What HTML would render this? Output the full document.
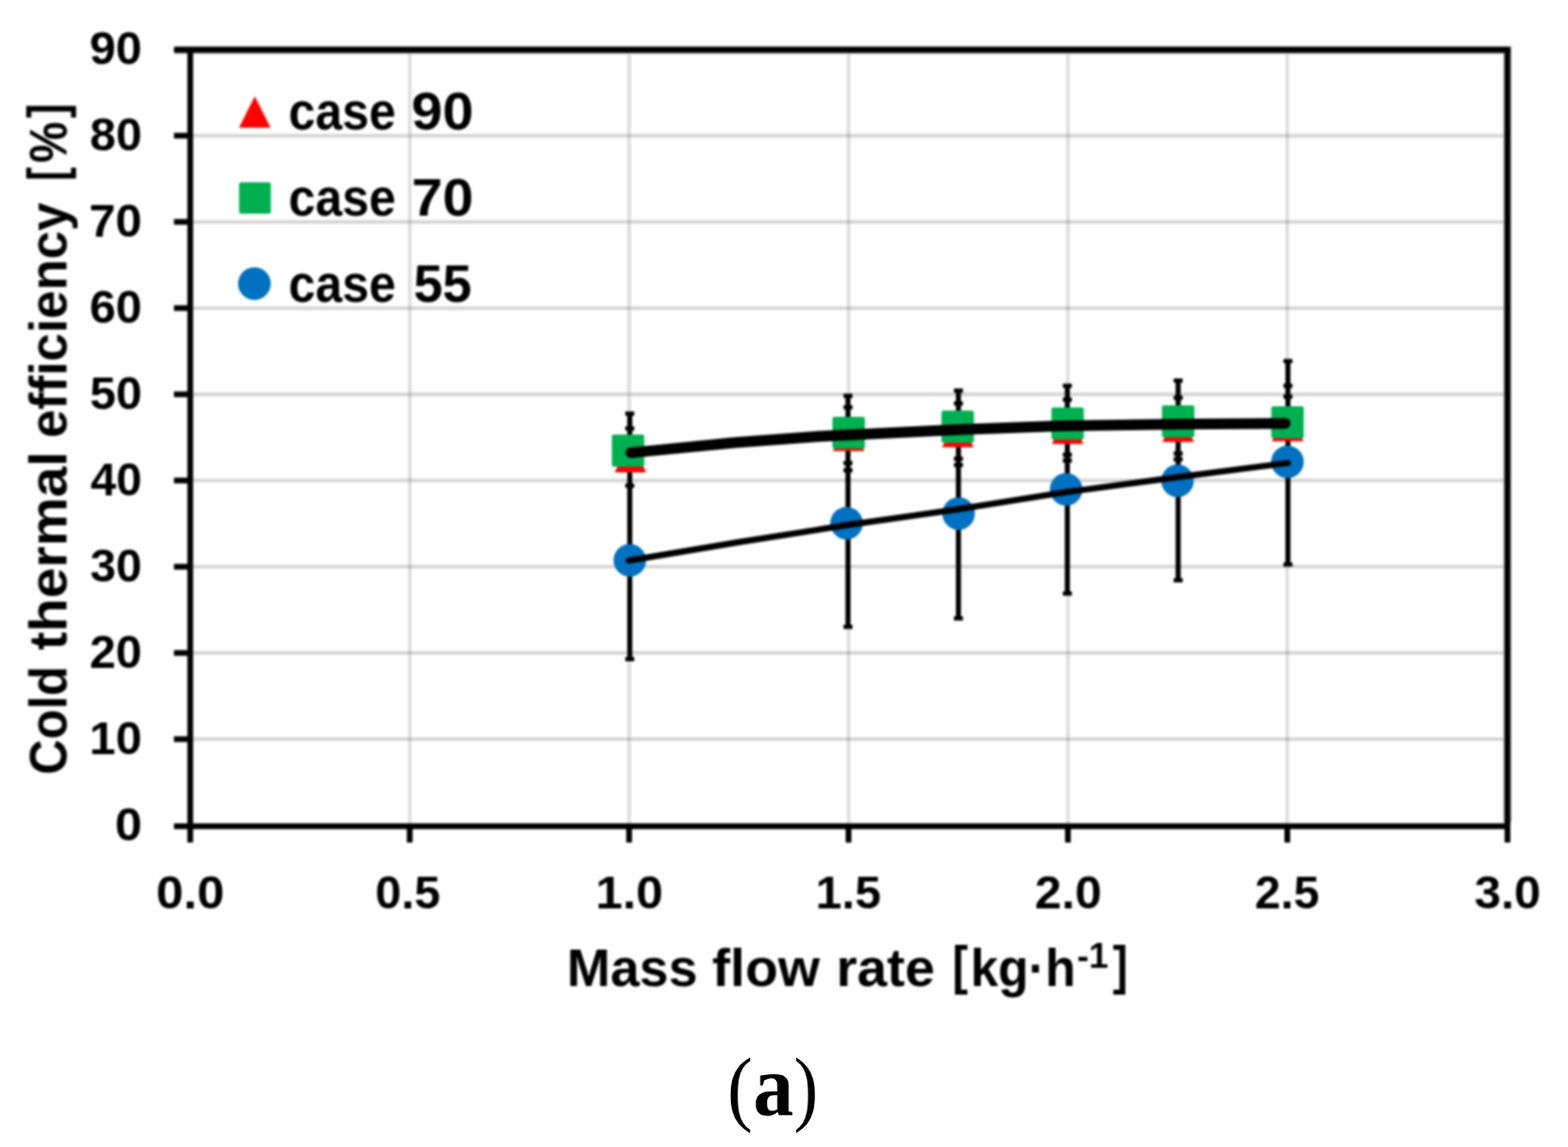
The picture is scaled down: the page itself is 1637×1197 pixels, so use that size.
<!DOCTYPE html>
<html lang="en">
<head>
<meta charset="utf-8">
<title>Cold thermal efficiency vs mass flow rate (a)</title>
<style>
html,body{margin:0;padding:0;background:#fff;}
body{width:1637px;height:1197px;overflow:hidden;position:relative;}
svg{position:absolute;left:0;top:0;display:block;}
.sans{font-family:"Liberation Sans", sans-serif;font-weight:bold;fill:#000;}
.serif{font-family:"Liberation Serif", serif;fill:#000;}
</style>
</head>
<body>
<svg width="1637" height="1197" viewBox="0 0 1637 1197" role="img" aria-label="Cold thermal efficiency versus mass flow rate">
<rect x="0" y="0" width="1637" height="1197" fill="#ffffff"/>
<defs><filter id="soft" x="-5%" y="-5%" width="110%" height="110%" color-interpolation-filters="sRGB"><feGaussianBlur stdDeviation="1"/></filter></defs>
<g filter="url(#soft)">
<g stroke="#000" stroke-opacity="0.165" stroke-width="3.8" fill="none">
<line x1="198.6" y1="771.38" x2="1573.8" y2="771.38"/>
<line x1="198.6" y1="681.41" x2="1573.8" y2="681.41"/>
<line x1="198.6" y1="591.44" x2="1573.8" y2="591.44"/>
<line x1="198.6" y1="501.47" x2="1573.8" y2="501.47"/>
<line x1="198.6" y1="411.5" x2="1573.8" y2="411.5"/>
<line x1="198.6" y1="321.53" x2="1573.8" y2="321.53"/>
<line x1="198.6" y1="231.56" x2="1573.8" y2="231.56"/>
<line x1="198.6" y1="141.59" x2="1573.8" y2="141.59"/>
</g>
<g stroke="#000" stroke-opacity="0.13" stroke-width="3.8" fill="none">
<line x1="427.75" y1="52.1" x2="427.75" y2="862.3"/>
<line x1="656.8" y1="52.1" x2="656.8" y2="862.3"/>
<line x1="885.85" y1="52.1" x2="885.85" y2="862.3"/>
<line x1="1114.9" y1="52.1" x2="1114.9" y2="862.3"/>
<line x1="1343.95" y1="52.1" x2="1343.95" y2="862.3"/>
</g>
<g stroke="#000" stroke-width="4.4" fill="none">
<line stroke-width="5.3" x1="657.5" y1="431.6" x2="657.5" y2="687.9"/>
<line x1="652.8" y1="431.6" x2="662.2" y2="431.6"/>
<line x1="652.8" y1="447.1" x2="662.2" y2="447.1"/>
<line x1="652.8" y1="506.9" x2="662.2" y2="506.9"/>
<line x1="652.8" y1="687.9" x2="662.2" y2="687.9"/>
<line stroke-width="5.3" x1="885.3" y1="413.1" x2="885.3" y2="654.2"/>
<line x1="880.6" y1="413.1" x2="890" y2="413.1"/>
<line x1="880.6" y1="425.1" x2="890" y2="425.1"/>
<line x1="880.6" y1="483.3" x2="890" y2="483.3"/>
<line x1="880.6" y1="490.8" x2="890" y2="490.8"/>
<line x1="880.6" y1="654.2" x2="890" y2="654.2"/>
<line stroke-width="5.3" x1="1000.6" y1="407.6" x2="1000.6" y2="645.4"/>
<line x1="995.9" y1="407.6" x2="1005.3" y2="407.6"/>
<line x1="995.9" y1="421.1" x2="1005.3" y2="421.1"/>
<line x1="995.9" y1="478.7" x2="1005.3" y2="478.7"/>
<line x1="995.9" y1="485.3" x2="1005.3" y2="485.3"/>
<line x1="995.9" y1="645.4" x2="1005.3" y2="645.4"/>
<line stroke-width="5.3" x1="1114.3" y1="402.6" x2="1114.3" y2="619.4"/>
<line x1="1109.6" y1="402.6" x2="1119" y2="402.6"/>
<line x1="1109.6" y1="417.1" x2="1119" y2="417.1"/>
<line x1="1109.6" y1="474.6" x2="1119" y2="474.6"/>
<line x1="1109.6" y1="480.6" x2="1119" y2="480.6"/>
<line x1="1109.6" y1="619.4" x2="1119" y2="619.4"/>
<line stroke-width="5.3" x1="1230" y1="397.1" x2="1230" y2="605.6"/>
<line x1="1225.3" y1="397.1" x2="1234.7" y2="397.1"/>
<line x1="1225.3" y1="415.1" x2="1234.7" y2="415.1"/>
<line x1="1225.3" y1="473.3" x2="1234.7" y2="473.3"/>
<line x1="1225.3" y1="479.3" x2="1234.7" y2="479.3"/>
<line x1="1225.3" y1="605.6" x2="1234.7" y2="605.6"/>
<line stroke-width="5.3" x1="1344.6" y1="376.8" x2="1344.6" y2="589.1"/>
<line x1="1339.9" y1="376.8" x2="1349.3" y2="376.8"/>
<line x1="1339.9" y1="402.6" x2="1349.3" y2="402.6"/>
<line x1="1339.9" y1="413.9" x2="1349.3" y2="413.9"/>
<line x1="1339.9" y1="589.1" x2="1349.3" y2="589.1"/>
</g>
<g fill="#ff0000">
<path d="M658.2 460L674.7 493L641.7 493Z"/>
<path d="M886 437.7L902.5 470.7L869.5 470.7Z"/>
<path d="M1000 433.7L1016.5 466.7L983.5 466.7Z"/>
<path d="M1114.6 430.2L1131.1 463.2L1098.1 463.2Z"/>
<path d="M1230 428.2L1246.5 461.2L1213.5 461.2Z"/>
<path d="M1344.3 427.5L1360.8 460.5L1327.8 460.5Z"/>
</g>
<g fill="#00b050">
<rect x="638.8" y="453.5" width="33.8" height="33.4" rx="2" ry="2"/>
<rect x="869.1" y="434.9" width="33.8" height="33.4" rx="2" ry="2"/>
<rect x="982.9" y="428.6" width="33.8" height="33.4" rx="2" ry="2"/>
<rect x="1097.7" y="425.3" width="33.8" height="33.4" rx="2" ry="2"/>
<rect x="1213.1" y="423.1" width="33.8" height="33.4" rx="2" ry="2"/>
<rect x="1327.3" y="424.1" width="33.8" height="33.4" rx="2" ry="2"/>
</g>
<g fill="#0070c0">
<circle cx="657.5" cy="584.7" r="17"/>
<circle cx="883.8" cy="546.1" r="17"/>
<circle cx="1000.8" cy="536" r="17"/>
<circle cx="1113" cy="510.7" r="17"/>
<circle cx="1229.3" cy="501.7" r="17"/>
<circle cx="1344.1" cy="482.1" r="17"/>
</g>
<g stroke="#000" fill="none" stroke-linecap="round" stroke-linejoin="round">
<polyline stroke-width="11.2" points="658.6,472.5 767.3,461.9 855.3,455.3 886,453.8 1000,448.3 1115,444.3 1230,442.6 1341.8,441.8"/>
<polyline stroke-width="6.4" points="656.5,585 770,566 884,548 1000,531.5 1113,513.6 1229,498 1344.5,483.2"/>
</g>
<path stroke="#b0b0b0" stroke-width="8.6" fill="none" d="M182.6 52.1H1573.8V858.3"/>
<g stroke="#000" stroke-width="6.0" fill="none" stroke-linecap="butt">
<path d="M181.6 52.1H1576.8"/>
<path d="M1573.8 52.1V879.3"/>
<path d="M198.6 52.1V879.3"/>
<path d="M181.6 862.3H1573.8"/>
<path d="M181.6 771.38H198.6"/>
<path d="M181.6 681.41H198.6"/>
<path d="M181.6 591.44H198.6"/>
<path d="M181.6 501.47H198.6"/>
<path d="M181.6 411.5H198.6"/>
<path d="M181.6 321.53H198.6"/>
<path d="M181.6 231.56H198.6"/>
<path d="M181.6 141.59H198.6"/>
<path d="M427.75 862.3V879.3"/>
<path d="M656.8 862.3V879.3"/>
<path d="M885.85 862.3V879.3"/>
<path d="M1114.9 862.3V879.3"/>
<path d="M1343.95 862.3V879.3"/>
</g>
<path fill="#ff0000" d="M266 100.6L282.5 133.2L249.5 133.2Z"/>
<rect fill="#00b050" x="249.6" y="190.2" width="33.2" height="32.8" rx="2" ry="2"/>
<circle fill="#0070c0" cx="265.6" cy="296" r="17.1"/>
<text class="sans" font-size="56.0" y="134.9" xml:space="preserve"><tspan x="301.29" textLength="112.06" lengthAdjust="spacingAndGlyphs">case</tspan> <tspan x="429.56" textLength="64.91" lengthAdjust="spacingAndGlyphs">90</tspan></text>
<text class="sans" font-size="56.0" y="225.1" xml:space="preserve"><tspan x="301.29" textLength="112.06" lengthAdjust="spacingAndGlyphs">case</tspan> <tspan x="429.78" textLength="64.68" lengthAdjust="spacingAndGlyphs">70</tspan></text>
<text class="sans" font-size="56.0" y="314.8" xml:space="preserve"><tspan x="301.29" textLength="112.06" lengthAdjust="spacingAndGlyphs">case</tspan> <tspan x="431.66" textLength="60.94" lengthAdjust="spacingAndGlyphs">55</tspan></text>
<text class="sans" font-size="48.2" y="877.3"><tspan x="119.96" textLength="28.34" lengthAdjust="spacingAndGlyphs">0</tspan></text>
<text class="sans" font-size="48.2" y="787.3"><tspan x="93.39" textLength="54.9" lengthAdjust="spacingAndGlyphs">10</tspan></text>
<text class="sans" font-size="48.2" y="697.3"><tspan x="93.48" textLength="54.81" lengthAdjust="spacingAndGlyphs">20</tspan></text>
<text class="sans" font-size="48.2" y="607.3"><tspan x="93.98" textLength="54.29" lengthAdjust="spacingAndGlyphs">30</tspan></text>
<text class="sans" font-size="48.2" y="517.3"><tspan x="94.47" textLength="53.77" lengthAdjust="spacingAndGlyphs">40</tspan></text>
<text class="sans" font-size="48.2" y="427.3"><tspan x="93.73" textLength="54.55" lengthAdjust="spacingAndGlyphs">50</tspan></text>
<text class="sans" font-size="48.2" y="337.3"><tspan x="93.48" textLength="54.81" lengthAdjust="spacingAndGlyphs">60</tspan></text>
<text class="sans" font-size="48.2" y="247.3"><tspan x="92.96" textLength="55.35" lengthAdjust="spacingAndGlyphs">70</tspan></text>
<text class="sans" font-size="48.2" y="157.3"><tspan x="93.73" textLength="54.55" lengthAdjust="spacingAndGlyphs">80</tspan></text>
<text class="sans" font-size="48.2" y="67.3"><tspan x="93.48" textLength="54.81" lengthAdjust="spacingAndGlyphs">90</tspan></text>
<text class="sans" font-size="48.2" y="947.7"><tspan x="162.95" textLength="71.31" lengthAdjust="spacingAndGlyphs">0.0</tspan></text>
<text class="sans" font-size="48.2" y="947.7"><tspan x="391.74" textLength="68.14" lengthAdjust="spacingAndGlyphs">0.5</tspan></text>
<text class="sans" font-size="48.2" y="947.7"><tspan x="621.7" textLength="70.64" lengthAdjust="spacingAndGlyphs">1.0</tspan></text>
<text class="sans" font-size="48.2" y="947.7"><tspan x="851.5" textLength="68.38" lengthAdjust="spacingAndGlyphs">1.5</tspan></text>
<text class="sans" font-size="48.2" y="947.7"><tspan x="1080.34" textLength="69.98" lengthAdjust="spacingAndGlyphs">2.0</tspan></text>
<text class="sans" font-size="48.2" y="947.7"><tspan x="1310.1" textLength="67.36" lengthAdjust="spacingAndGlyphs">2.5</tspan></text>
<text class="sans" font-size="48.2" y="947.7"><tspan x="1539.15" textLength="69.56" lengthAdjust="spacingAndGlyphs">3.0</tspan></text>
<text class="sans" font-size="56.0" y="1028.8" xml:space="preserve"><tspan x="591.75" textLength="136.51" lengthAdjust="spacingAndGlyphs">Mass</tspan> <tspan x="743.56" textLength="112.42" lengthAdjust="spacingAndGlyphs">flow</tspan> <tspan x="872.94" textLength="103.2" lengthAdjust="spacingAndGlyphs">rate</tspan> <tspan x="994.2" y="1026.3" textLength="16.34" lengthAdjust="spacingAndGlyphs">[</tspan><tspan x="1013.16" y="1028.8" textLength="109.81" lengthAdjust="spacingAndGlyphs">kg·h</tspan><tspan x="1124.43" y="1010" textLength="32.64" lengthAdjust="spacingAndGlyphs" font-size="37.5">-1</tspan><tspan x="1161.63" y="1026.3" textLength="15.71" lengthAdjust="spacingAndGlyphs">]</tspan></text>
<text class="sans" font-size="56.0" transform="translate(69.4 0) rotate(-90)" y="0" xml:space="preserve"><tspan x="-808.55" textLength="113.66" lengthAdjust="spacingAndGlyphs">Cold</tspan> <tspan x="-678.57" textLength="207.43" lengthAdjust="spacingAndGlyphs">thermal</tspan> <tspan x="-457.03" textLength="245.67" lengthAdjust="spacingAndGlyphs">efficiency</tspan> <tspan x="-188.77" y="-2.4" textLength="14.33" lengthAdjust="spacingAndGlyphs">[</tspan><tspan x="-170.01" y="0" textLength="42.98" lengthAdjust="spacingAndGlyphs">%</tspan><tspan x="-123.36" y="-2.4" textLength="15.33" lengthAdjust="spacingAndGlyphs">]</tspan></text>
</g>
<text class="serif" font-size="86.3" y="1163.5" xml:space="preserve"><tspan x="759.32" textLength="26.51" lengthAdjust="spacingAndGlyphs">(</tspan><tspan x="786.16" y="1164.2" textLength="42.31" lengthAdjust="spacingAndGlyphs" font-weight="bold" font-size="90.4">a</tspan><tspan x="828.82" y="1163.5" textLength="25.36" lengthAdjust="spacingAndGlyphs">)</tspan></text>
</svg>
</body>
</html>
